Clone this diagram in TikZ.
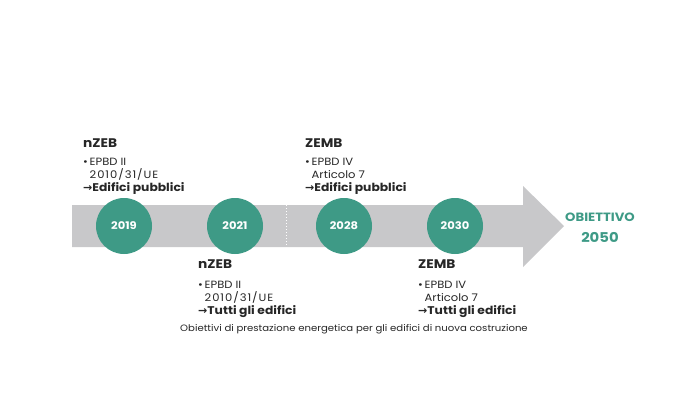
\documentclass[tikz,border=0pt]{standalone}
\usepackage{fontspec}
\setmainfont[FakeStretch=1.1]{Poppins}
\newfontfamily\arrowfont{DejaVu Sans}
\definecolor{goalteal}{HTML}{3E9A86}
\definecolor{bargrey}{HTML}{C8C8CA}
\definecolor{ink}{HTML}{262626}
\newcommand{\goalarrow}{{\arrowfont\bfseries\fontsize{11}{13}\selectfont →}}
\newcommand{\goalline}[1]{\goalarrow{\fontsize{11.2}{13}\selectfont\bfseries #1}}
\newcommand{\refline}[1]{\phantom{\textbullet}\,{\addfontfeature{LetterSpace=9}#1}}

\begin{document}
\begin{tikzpicture}[x=1pt,y=-1pt,
  year/.style={circle,fill=goalteal,text=white,minimum size=56pt,inner sep=0pt,font=\fontsize{10.5}{11}\selectfont\bfseries},
  head/.style={anchor=base west,inner sep=0pt,text=ink,font=\fontsize{12.5}{13}\selectfont\bfseries},
  info/.style={anchor=north west,align=left,inner sep=0pt,text=ink,font=\fontsize{10.5}{13}\selectfont}]
\useasboundingbox (0,0) rectangle (680,417);
% timeline bar with arrow head
\fill[bargrey] (72,205) -- (523,205) -- (523,186) -- (564,226) -- (523,267) -- (523,247) -- (72,247) -- cycle;
\draw[white,dotted,line width=1pt] (286,205) -- (286,247);
% milestones
\node[year] (y19) at (124,226) {2019};
\node[year] (y21) at (235,226) {2021};
\node[year] (y28) at (344,226) {2028};
\node[year] (y30) at (455,226) {2030};
% labels above
\node[head] (h19) at (83,147) {nZEB};
\node[info] (i19) at (83,158) {\textbullet\,EPBD II\\\refline{2010/31/UE}\\\goalline{Edifici pubblici}};
\node[head] (h28) at (305,147) {ZEMB};
\node[info] (i28) at (305,158) {\textbullet\,EPBD IV\\\phantom{\textbullet\,}Articolo 7\\\goalline{Edifici pubblici}};
% labels below
\node[head] (h21) at (198,268) {nZEB};
\node[info] (i21) at (198,281) {\textbullet\,EPBD II\\\refline{2010/31/UE}\\\goalline{Tutti gli edifici}};
\node[head] (h30) at (418,268) {ZEMB};
\node[info] (i30) at (418,281) {\textbullet\,EPBD IV\\\phantom{\textbullet\,}Articolo 7\\\goalline{Tutti gli edifici}};
% goal
\node[text=goalteal,font=\fontsize{12}{13}\selectfont\bfseries] (goal) at (600,217) {OBIETTIVO};
\node[text=goalteal,font=\fontsize{13.5}{15}\selectfont\bfseries] (g50) at (600,237) {2050};
\node[text=ink,font=\fontsize{9.2}{10}\selectfont] (cap) at (354,329) {Obiettivi di prestazione energetica per gli edifici di nuova costruzione};
\end{tikzpicture}
\end{document}
